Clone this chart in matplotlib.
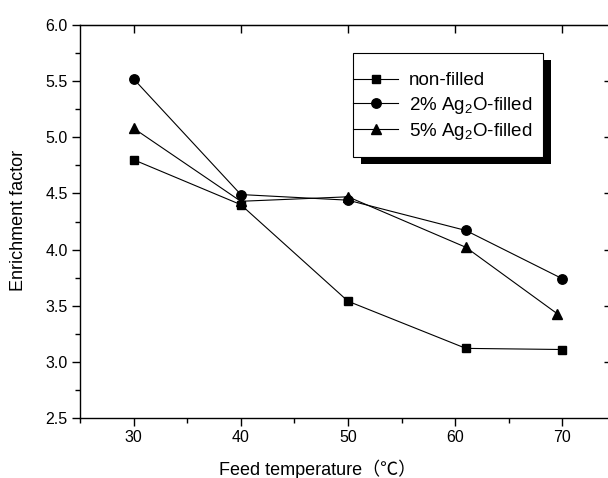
import matplotlib
matplotlib.use("Agg")
import matplotlib.pyplot as plt
from matplotlib.patches import Rectangle
from matplotlib.ticker import MultipleLocator, FormatStrFormatter

plt.rcParams['font.family'] = ['Liberation Sans', 'Noto Sans CJK SC', 'DejaVu Sans']
plt.rcParams['mathtext.fontset'] = 'custom'
plt.rcParams['mathtext.rm'] = 'Liberation Sans'
plt.rcParams['mathtext.it'] = 'Liberation Sans'

# data
temp_non = [30, 40, 50, 61, 70]
ef_non = [4.80, 4.40, 3.54, 3.12, 3.11]
temp_2 = [30, 40, 50, 61, 70]
ef_2 = [5.52, 4.49, 4.44, 4.17, 3.74]
temp_5 = [30, 40, 50, 61, 69.5]
ef_5 = [5.08, 4.43, 4.47, 4.02, 3.43]

W, H = 608, 478
fig = plt.figure(figsize=(W / 100, H / 100), dpi=100)
ax = fig.add_axes([80 / W, 60 / H, 536 / W, 393 / H])

ax.plot(temp_non, ef_non, '-s', color='black', lw=0.8, ms=5.8, label='non-filled')
ax.plot(temp_2, ef_2, '-o', color='black', lw=0.8, ms=6.8, label='2% Ag$_2$O-filled')
ax.plot(temp_5, ef_5, '-^', color='black', lw=0.8, ms=7.5, label='5% Ag$_2$O-filled')

ax.set_xlim(25, 75)
ax.set_ylim(2.5, 6.0)
ax.set_xticks([30, 40, 50, 60, 70])
ax.xaxis.set_minor_locator(MultipleLocator(5))
ax.yaxis.set_major_locator(MultipleLocator(0.5))
ax.yaxis.set_minor_locator(MultipleLocator(0.25))
ax.yaxis.set_major_formatter(FormatStrFormatter('%.1f'))

for s in ax.spines.values():
    s.set_linewidth(1.0)
ax.tick_params(which='major', direction='out', length=6, width=1, labelsize=11.5, pad=3)
ax.tick_params(which='minor', direction='out', length=3.5, width=1)
ax.tick_params(which='minor', top=False, right=False)

# inward ticks on top and right, no labels
axt = ax.secondary_xaxis('top')
axt.set_xticks([30, 40, 50, 60, 70])
axt.tick_params(direction='in', length=6, width=1, labeltop=False)
axr = ax.secondary_yaxis('right')
axr.set_yticks([3.0, 3.5, 4.0, 4.5, 5.0, 5.5])
axr.tick_params(direction='in', length=9, width=1, labelright=False)

ax.set_xlabel('Feed temperature（℃）', fontsize=13)
ax.xaxis.set_label_coords(0.443, -0.130)
ax.xaxis.label.set_va('center')
ax.set_ylabel('Enrichment factor', fontsize=13)
ax.yaxis.set_label_coords(-0.1147, 0.5025)
ax.yaxis.label.set_va('center')

leg = ax.legend(loc='center left', bbox_to_anchor=(353 / W, 1 - 107 / H),
                bbox_transform=fig.transFigure, borderaxespad=0, borderpad=0,
                fontsize=13.5, frameon=False, handlelength=2.4,
                handletextpad=0.6, labelspacing=0.28)
leg.set_zorder(6)

fig.canvas.draw()
bb = leg.get_window_extent()
cy = (bb.y0 + bb.y1) / 2 + 2
fx0, fx1 = bb.x0, bb.x1 + 10
fy0, fy1 = cy - 52, cy + 52
shadow = Rectangle((fx0 + 8, fy0 - 7), fx1 - fx0, fy1 - fy0, transform=None,
                   facecolor='black', edgecolor='none', zorder=4, clip_on=False)
frame = Rectangle((fx0, fy0), fx1 - fx0, fy1 - fy0, transform=None,
                  facecolor='white', edgecolor='black', lw=0.8, zorder=5, clip_on=False)
ax.add_artist(shadow)
ax.add_artist(frame)

fig.savefig('out.png', dpi=100)
